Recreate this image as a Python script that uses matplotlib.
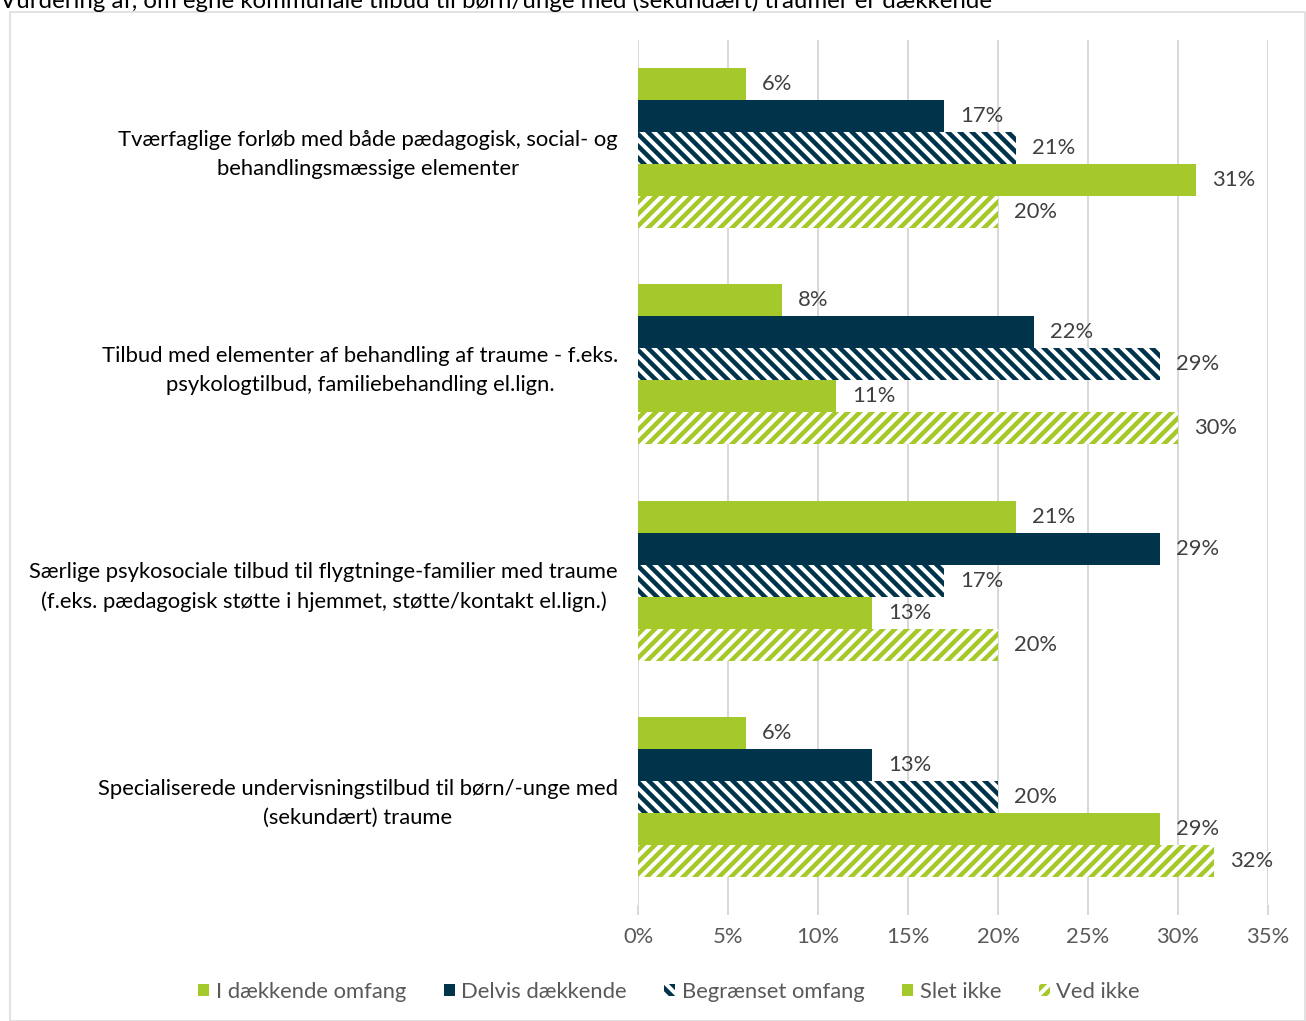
import numpy as np
import matplotlib
matplotlib.use('Agg')
import matplotlib.pyplot as plt
from matplotlib.patches import Rectangle

# ── Data ─────────────────────────────────────────────────────────
categories = [
    "Tværfaglige forløb med både pædagogisk, social- og\nbehandlingsmæssige elementer",
    "Tilbud med elementer af behandling af traume - f.eks.\npsykologtilbud, familiebehandling el.lign.",
    "Særlige psykosociale tilbud til flygtninge-familier med traume\n(f.eks. pædagogisk støtte i hjemmet, støtte/kontakt el.lign.)",
    "Specialiserede undervisningstilbud til børn/-unge med\n(sekundært) traume",
]
series = ["I dækkende omfang", "Delvis dækkende", "Begrænset omfang",
          "Slet ikke", "Ved ikke"]
i_daekkende = [6, 8, 21, 6]
delvis = [17, 22, 29, 13]
begraenset = [21, 29, 17, 20]
slet_ikke = [31, 11, 13, 29]
ved_ikke = [20, 30, 20, 32]
x_ticks = [0, 5, 10, 15, 20, 25, 30, 35]
title = "Vurdering af, om egne kommunale tilbud til børn/unge med (sekundært) traumer er dækkende"

GREEN = '#A5C92B'
NAVY = '#00344A'
GRID = '#D9D9D9'
TXT = '#404040'
FS = 22

plt.rcParams['font.family'] = ['Lato', 'DejaVu Sans']
plt.rcParams['hatch.linewidth'] = 4.5

# dpi 72 so one point is one pixel
DPI = 72
fig = plt.figure(figsize=(1306 / DPI, 1021 / DPI), dpi=DPI)
ax = fig.add_axes([638 / 1306, 1 - 905 / 1021, 630 / 1306, 865 / 1021])

# grey outer frame round the chart area
fig.patches.append(Rectangle((10 / 1306, 0), 1295 / 1306, 1 - 12 / 1021,
                             transform=fig.transFigure, fill=False,
                             edgecolor=GRID, linewidth=1.5, zorder=0))
# title sits half outside the picture, as in the source
fig.text(0.0, 1 - 1 / 1021, title, fontsize=24, color='black',
         ha='left', va='center')

styles = [
    dict(color=GREEN),
    dict(color=NAVY),
    dict(facecolor='white', edgecolor=NAVY, hatch='\\\\', linewidth=0),
    dict(color=GREEN),
    dict(facecolor='white', edgecolor=GREEN, hatch='//', linewidth=0),
]
values = [i_daekkende, delvis, begraenset, slet_ikke, ved_ikke]

y = np.arange(len(categories))
h = 32 / 216
for i, (name, vals, st) in enumerate(zip(series, values, styles)):
    bars = ax.barh(y + (i - 2) * h, vals, height=h, label=name,
                   zorder=3, **st)
    ax.bar_label(bars, labels=[f"{v}%" for v in vals], padding=16,
                 fontsize=FS, color=TXT)

ax.set_ylim(3.5, -0.5)
ax.set_xlim(0, 35)
ax.set_xticks(x_ticks)
ax.set_xticklabels([f"{t}%" for t in x_ticks], fontsize=FS, color='#595959')
ax.set_yticks(y)
ax.set_yticklabels(categories, fontsize=FS, color='black')
for lab in ax.get_yticklabels():
    lab.set_multialignment('center')
    lab.set_linespacing(1.55)
ax.tick_params(axis='y', length=0, pad=20)
ax.tick_params(axis='x', length=10, color=GRID, width=2, pad=12)
ax.grid(axis='x', color=GRID, linewidth=2, zorder=0)
for s in ax.spines.values():
    s.set_visible(False)

ax.legend(loc='center', bbox_to_anchor=(669 / 1306, 1 - 992 / 1021),
          bbox_transform=fig.transFigure, ncol=5, frameon=False,
          fontsize=FS, handlelength=0.5, handleheight=0.5, handletextpad=0.3,
          columnspacing=1.7, labelcolor='#595959')

fig.savefig("out.png", dpi=DPI)
